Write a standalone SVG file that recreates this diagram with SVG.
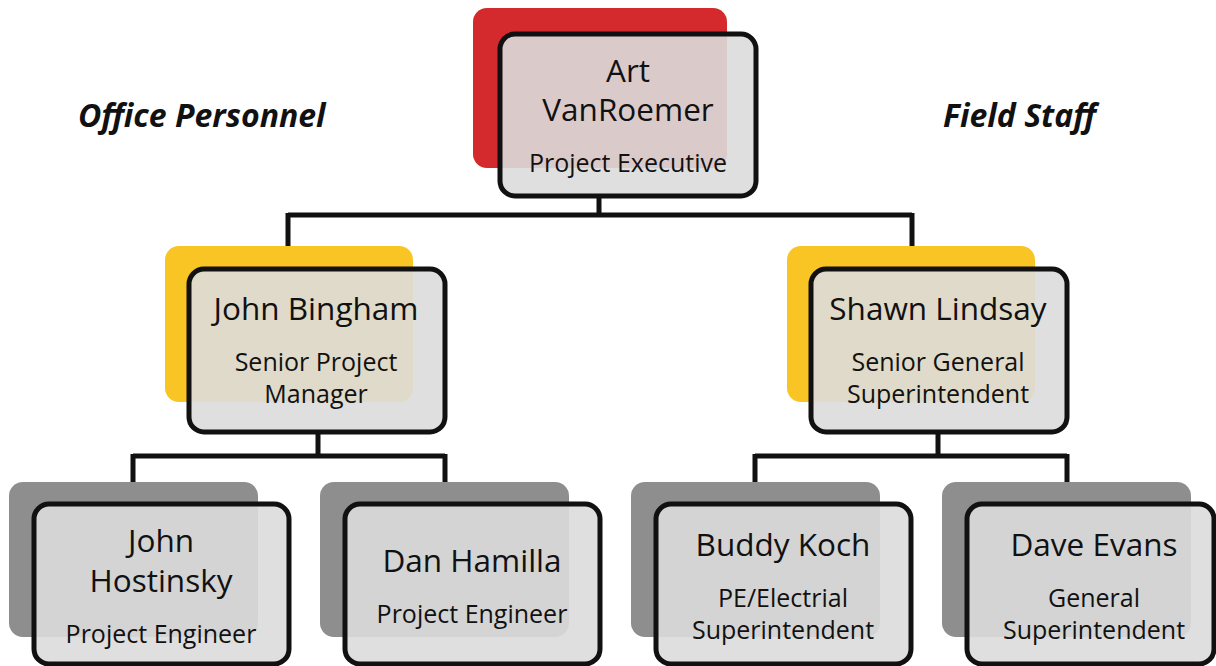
<svg xmlns="http://www.w3.org/2000/svg" width="1216" height="666" viewBox="0 0 1216 666">
<style>
.back{stroke:none}
.red{fill:#d42a2e}
.yel{fill:#f8c524}
.gry{fill:#8e8e8e}
.front{fill:#dcdcdc;fill-opacity:0.9;stroke:#111;stroke-width:5}
.name{font-family:"Open Sans","DejaVu Sans",sans-serif;font-size:31.5px;fill:#111;text-anchor:middle}
.role{font-family:"Open Sans","DejaVu Sans",sans-serif;font-size:25px;fill:#111;text-anchor:middle}
.hdr{font-family:"Open Sans","DejaVu Sans",sans-serif;font-size:32px;font-weight:bold;font-style:italic;fill:#111}
.conn{fill:none;stroke:#111;stroke-width:5}
</style>
<rect width="1216" height="666" fill="#fff"/>
<text class="hdr" x="78" y="127">Office Personnel</text>
<text class="hdr" x="943" y="127">Field Staff</text>
<g id="connectors">
<path class="conn" d="M599,196V215M288,215H912M288,213V246M912,213V246"/>
<path class="conn" d="M318,433V456M133,456H445M133,454V482M445,454V482"/>
<path class="conn" d="M938,433V456M755,456H1067M755,454V482M1067,454V482"/>
</g>
<g id="art">
<rect class="back red" x="473" y="8" width="254" height="160" rx="14"/>
<rect class="front" x="500" y="34" width="256" height="162" rx="15"/>
<text class="name" x="628" y="82">Art</text>
<text class="name" x="628" y="121">VanRoemer</text>
<text class="role" x="628" y="172">Project Executive</text>
</g>
<g id="bingham">
<rect class="back yel" x="165" y="246" width="248" height="156" rx="14"/>
<rect class="front" x="189" y="269" width="256" height="163" rx="15"/>
<text class="name" x="316" y="320">John Bingham</text>
<text class="role" x="316" y="371">Senior Project</text>
<text class="role" x="316" y="403">Manager</text>
</g>
<g id="lindsay">
<rect class="back yel" x="787" y="246" width="248" height="156" rx="14"/>
<rect class="front" x="811" y="269" width="256" height="163" rx="15"/>
<text class="name" x="938" y="320">Shawn Lindsay</text>
<text class="role" x="938" y="371">Senior General</text>
<text class="role" x="938" y="403">Superintendent</text>
</g>
<g id="hostinsky">
<rect class="back gry" x="9" y="482" width="249" height="155" rx="14"/>
<rect class="front" x="34" y="504" width="255" height="160" rx="15"/>
<text class="name" x="161" y="552">John</text>
<text class="name" x="161" y="592">Hostinsky</text>
<text class="role" x="161" y="643">Project Engineer</text>
</g>
<g id="hamilla">
<rect class="back gry" x="320" y="482" width="249" height="155" rx="14"/>
<rect class="front" x="345" y="504" width="255" height="160" rx="15"/>
<text class="name" x="472" y="572">Dan Hamilla</text>
<text class="role" x="472" y="623">Project Engineer</text>
</g>
<g id="koch">
<rect class="back gry" x="631" y="482" width="249" height="155" rx="14"/>
<rect class="front" x="656" y="504" width="255" height="160" rx="15"/>
<text class="name" x="783" y="556">Buddy Koch</text>
<text class="role" x="783" y="607">PE/Electrial</text>
<text class="role" x="783" y="639">Superintendent</text>
</g>
<g id="evans">
<rect class="back gry" x="942" y="482" width="249" height="155" rx="14"/>
<rect class="front" x="967" y="504" width="247" height="160" rx="15"/>
<text class="name" x="1094" y="556">Dave Evans</text>
<text class="role" x="1094" y="607">General</text>
<text class="role" x="1094" y="639">Superintendent</text>
</g>
</svg>
